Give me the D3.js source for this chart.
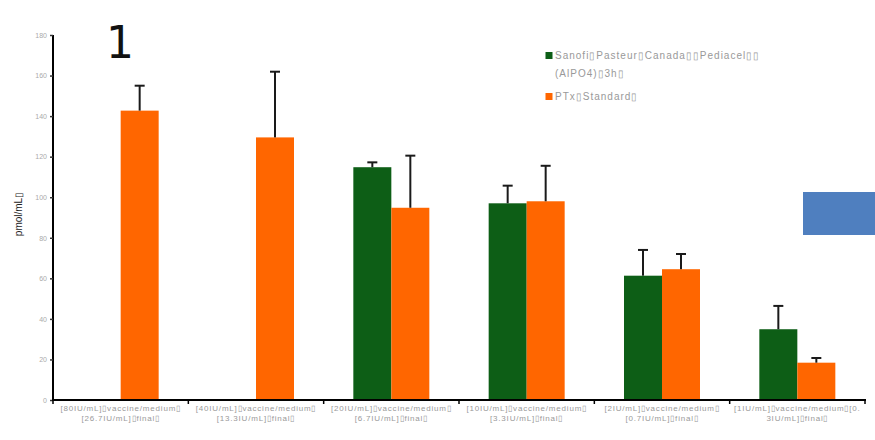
<!DOCTYPE html>
<html><head><meta charset="utf-8">
<script src="https://cdn.jsdelivr.net/npm/d3@7"></script>
<style>body{margin:0;background:#fff;}svg{display:block;font-family:"Liberation Sans",Arial,sans-serif;}</style>
</head><body><svg id="c" width="875" height="440"></svg>
<script>
const categoriesLine1 = ["[80IU/mL]▯vaccine/medium▯","[40IU/mL]▯vaccine/medium▯","[20IU/mL]▯vaccine/medium▯","[10IU/mL]▯vaccine/medium▯","[2IU/mL]▯vaccine/medium▯","[1IU/mL]▯vaccine/medium▯[0."];
const categoriesLine2 = ["[26.7IU/mL]▯final▯","[13.3IU/mL]▯final▯","[6.7IU/mL]▯final▯","[3.3IU/mL]▯final▯","[0.7IU/mL]▯final▯","3IU/mL]▯final▯"];
const seriesNames = ["Sanofi▯Pasteur▯Canada▯▯Pediacel▯▯", "PTx▯Standard▯"];
const sanofi = [0, 0, 114.8, 97.0, 61.3, 34.9];
const sanofiErr = [0, 0, 2.4, 8.7, 12.7, 11.5];
const ptx = [142.7, 129.5, 94.8, 98.0, 64.5, 18.4];
const ptxErr = [12.3, 32.4, 25.7, 17.5, 7.5, 2.3];
const yTicks = [0,20,40,60,80,100,120,140,160,180];

const colors = ["#0d5e16", "#ff6600"];
const svg = d3.select("#c");
const x0 = d3.scaleBand().domain(d3.range(6)).range([53, 865]);
const bw = x0.bandwidth();
const x1 = d3.scaleBand().domain([0,1]).range([bw/2-38, bw/2+38]);
const y = d3.scaleLinear().domain([0,180]).range([400,35]);

// y axis
const ya = svg.append("g").attr("transform","translate(53,0)")
  .call(d3.axisLeft(y).tickValues(yTicks).tickSize(3).tickFormat(d=>d));
ya.select(".domain").attr("stroke","#000").attr("stroke-width",2).attr("d","M0,35V401");
ya.selectAll(".tick line").attr("stroke","#333").attr("stroke-width",1.5);
ya.selectAll(".tick text").attr("fill","#aaa").attr("font-size",7).attr("x",-6);

// bars
const data = d3.range(6).map(i => [{s:0,v:sanofi[i],e:sanofiErr[i]},{s:1,v:ptx[i],e:ptxErr[i]}]);
const g = svg.selectAll(".grp").data(data).join("g").attr("transform",(d,i)=>`translate(${x0(i)},0)`);
g.selectAll("rect").data(d=>d.filter(o=>o.v>0)).join("rect")
  .attr("x",d=>x1(d.s)).attr("width",x1.bandwidth())
  .attr("y",d=>y(d.v)).attr("height",d=>y(0)-y(d.v)).attr("fill",d=>colors[d.s]);
const eb = g.selectAll(".eb").data(d=>d.filter(o=>o.v>0)).join("g");
eb.append("line").attr("x1",d=>x1(d.s)+x1.bandwidth()/2).attr("x2",d=>x1(d.s)+x1.bandwidth()/2)
  .attr("y1",d=>y(d.v)).attr("y2",d=>y(d.v+d.e)).attr("stroke","#1a1a1a").attr("stroke-width",2);
eb.append("line").attr("x1",d=>x1(d.s)+x1.bandwidth()/2-5).attr("x2",d=>x1(d.s)+x1.bandwidth()/2+5)
  .attr("y1",d=>y(d.v+d.e)).attr("y2",d=>y(d.v+d.e)).attr("stroke","#1a1a1a").attr("stroke-width",2);

// x axis
svg.append("line").attr("x1",52).attr("x2",866).attr("y1",400).attr("y2",400).attr("stroke","#000").attr("stroke-width",2);
svg.selectAll(".xt").data(d3.range(7)).join("line")
  .attr("x1",i=>i<6?x0(i):865).attr("x2",i=>i<6?x0(i):865).attr("y1",400).attr("y2",404)
  .attr("stroke","#000").attr("stroke-width",1.5);
const xl = svg.selectAll(".xl").data(d3.range(6)).join("text")
  .attr("text-anchor","middle").attr("font-size",8).attr("letter-spacing",0.8).attr("fill","#999");
xl.append("tspan").attr("x",i=>x0(i)+bw/2).attr("y",411).text(i=>categoriesLine1[i]);
xl.append("tspan").attr("x",i=>x0(i)+bw/2).attr("y",421).text(i=>categoriesLine2[i]);

// y label
svg.append("text").attr("transform","translate(22,214) rotate(-90)").attr("text-anchor","middle")
  .attr("font-size",10).attr("fill","#222").text("pmol/mL▯");

// big "1"
svg.append("text").attr("x",106).attr("y",58).attr("font-size",44).attr("fill","#111")
  .attr("font-family","DejaVu Sans, sans-serif").text("1");

// legend
const lg = svg.append("g").attr("font-size",10).attr("fill","#999").attr("letter-spacing",1);
lg.append("rect").attr("x",545.5).attr("y",52).attr("width",7).attr("height",7).attr("fill",colors[0]);
lg.append("text").attr("x",555).attr("y",59).text(seriesNames[0]);
lg.append("text").attr("x",555).attr("y",77).text("(AlPO4)▯3h▯");
lg.append("rect").attr("x",545.5).attr("y",93).attr("width",7).attr("height",7).attr("fill",colors[1]);
lg.append("text").attr("x",555).attr("y",100).text(seriesNames[1]);

// blue box
svg.append("rect").attr("x",803).attr("y",192).attr("width",72).attr("height",43).attr("fill","#4f7fbf");
</script></body></html>
